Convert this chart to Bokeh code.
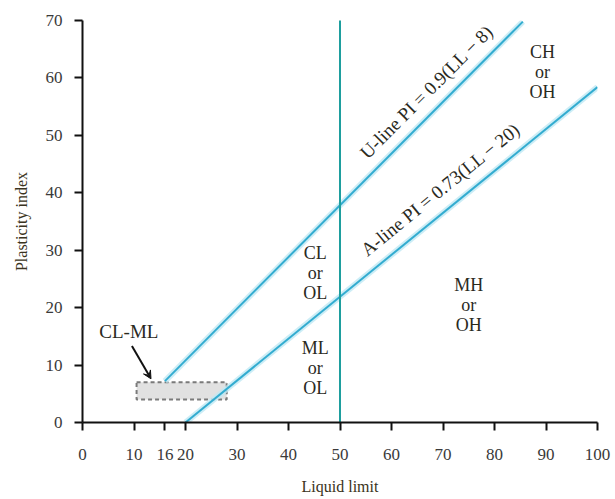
import math
from bokeh.plotting import figure
from bokeh.models import FixedTicker, Arrow, VeeHead
from bokeh.core.properties import value
from bokeh.embed import file_html
from bokeh.resources import INLINE

# ---- data ----
x_ticks = [0, 10, 16, 20, 30, 40, 50, 60, 70, 80, 90, 100]
y_ticks = [0, 10, 20, 30, 40, 50, 60, 70]

u_ll = [16, 85.5]
u_pi = [7.2, 69.8]
a_ll = [20, 100]
a_pi = [0, 58.4]
v_ll = [50, 50]
v_pi = [0, 70.5]

clml_ll = [10.5, 28]
clml_pi = [4, 7]

region_lines = [["CH", "or", "OH"], ["CL", "or", "OL"], ["ML", "or", "OL"], ["MH", "or", "OH"]]
region_ll = [89.3, 45.2, 45.2, 75]
region_pi = [64.5, 29.5, 13.0, 24.0]

u_label = "U-line PI = 0.9(LL \u2212 8)"
a_label = "A-line PI = 0.73(LL \u2212 20)"

FW, FH = 515, 402
p = figure(frame_width=FW, frame_height=FH, x_range=(0, 100), y_range=(0, 70),
           output_backend="svg", toolbar_location=None,
           min_border_left=82, min_border_top=20, min_border_right=14, min_border_bottom=77)
p.outline_line_color = None
p.grid.visible = False
p.background_fill_color = "white"

serif = "Liberation Serif"
for ax in (p.xaxis[0], p.yaxis[0]):
    ax.axis_line_width = 2
    ax.axis_line_color = "#111111"
    ax.major_tick_line_width = 2
    ax.major_tick_line_color = "#111111"
    ax.major_tick_out = 8
    ax.major_tick_in = 0
    ax.minor_tick_out = 0
    ax.minor_tick_in = 0
    ax.major_label_text_font = serif
    ax.major_label_text_font_size = "17px"
    ax.major_label_text_color = "#3a3a3a"
    ax.axis_label_text_font = serif
    ax.axis_label_text_font_size = "16px"
    ax.axis_label_text_font_style = "normal"
    ax.axis_label_text_color = "#3a3320"

p.xaxis[0].ticker = FixedTicker(ticks=x_ticks)
p.yaxis[0].ticker = FixedTicker(ticks=y_ticks)
p.xaxis[0].axis_label = "Liquid limit"
p.yaxis[0].axis_label = "Plasticity index"
p.xaxis[0].major_label_standoff = 18
p.yaxis[0].major_label_standoff = 12
p.xaxis[0].axis_label_standoff = 15
p.yaxis[0].axis_label_standoff = 13

# CL-ML zone
p.quad(left=[clml_ll[0]], right=[clml_ll[1]], bottom=[clml_pi[0]], top=[clml_pi[1]],
       fill_color="#d4d4d4", fill_alpha=0.7, line_color="#7a7a7a",
       line_dash="4 3", line_width=2)

# halos
p.line(u_ll, u_pi, line_color="#bfe9f4", line_width=6, line_alpha=0.8)
p.line(a_ll, a_pi, line_color="#bfe9f4", line_width=6, line_alpha=0.8)
# lines
p.line(u_ll, u_pi, line_color="#33acd0", line_width=2)
p.line(a_ll, a_pi, line_color="#33acd0", line_width=2)
p.line(v_ll, v_pi, line_color="#1e9e9e", line_width=2)

# region labels
for lines, x, y in zip(region_lines, region_ll, region_pi):
    for i, t in enumerate(lines):
        p.text(x=[x], y=[y - i * 3.5], text=[t], text_font=value(serif),
               text_font_size="18px", text_color="#2a2a1e",
               text_align="center", text_baseline="middle")

# rotated line labels
sx = FW / 100.0
sy = FH / 70.0
ang_u = math.atan(0.9 * sy / sx)
ang_a = math.atan(0.73 * sy / sx)
p.text(x=[66.8], y=[57.6], text=[u_label], angle=ang_u, text_font=value(serif),
       text_font_size="19px", text_color="#2a2a1e", text_align="center", text_baseline="middle")
p.text(x=[69.5], y=[40.6], text=[a_label], angle=ang_a, text_font=value(serif),
       text_font_size="19px", text_color="#2a2a1e", text_align="center", text_baseline="middle")

# CL-ML label + arrow
p.text(x=[9.0], y=[15.8], text=["CL-ML"], text_font=value(serif),
       text_font_size="19px", text_color="#2a2a1e", text_align="center", text_baseline="middle")
p.add_layout(Arrow(x_start=9.6, y_start=13.3, x_end=13.3, y_end=7.6,
                   line_color="#111111", line_width=2,
                   end=VeeHead(size=8, fill_color="#111111", line_color="#111111")))

open("out.html", "w").write(file_html(p, INLINE))
